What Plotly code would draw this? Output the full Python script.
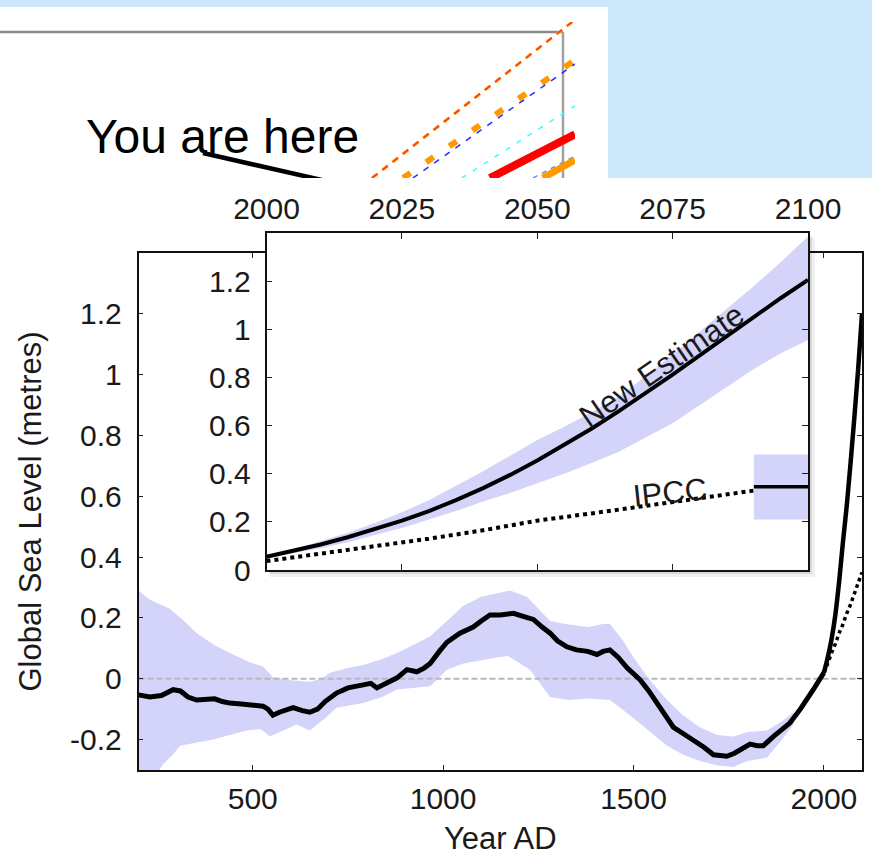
import plotly.graph_objects as go

W, H = 872, 865

def fx(p):
    return p / W

def fy(p):
    return (H - p) / H

# ---------------- data ----------------
hist_years = [200, 230, 260, 291, 310, 330, 353, 380, 400, 420, 440, 470, 500, 527, 540, 553, 570, 590, 606, 630,
              650, 670, 690, 720, 750, 790, 810, 826, 850, 879, 905, 931, 950, 966, 990, 1010, 1044, 1079, 1100, 1123,
              1150, 1185, 1210, 1237, 1260, 1281, 1300, 1325, 1350, 1380, 1404, 1420, 1438, 1460, 1483, 1500, 1517, 1540, 1561, 1583,
              1605, 1630, 1657, 1685, 1710, 1745, 1765, 1780, 1806, 1825, 1841, 1867, 1890, 1911, 1938, 1955, 1972, 1990, 2000]
hist_level = [-0.053, -0.06, -0.055, -0.036, -0.04, -0.06, -0.07, -0.068, -0.066, -0.075, -0.08, -0.083, -0.088, -0.09, -0.10, -0.12, -0.11, -0.10, -0.095, -0.105,
              -0.11, -0.10, -0.075, -0.047, -0.03, -0.02, -0.015, -0.03, -0.015, 0.003, 0.03, 0.023, 0.035, 0.05, 0.09, 0.12, 0.15, 0.17, 0.19, 0.21,
              0.21, 0.215, 0.205, 0.195, 0.17, 0.15, 0.125, 0.105, 0.095, 0.09, 0.08, 0.09, 0.095, 0.07, 0.036, 0.015, -0.003, -0.04, -0.08, -0.12,
              -0.16, -0.18, -0.20, -0.225, -0.25, -0.255, -0.245, -0.235, -0.215, -0.22, -0.22, -0.19, -0.165, -0.145, -0.10, -0.07, -0.036, 0.0, 0.02]

band_hi_years = [200, 230, 282, 320, 353, 400, 440, 490, 527, 553, 600, 650, 680, 703, 750, 790, 840, 879, 920, 966,
                 1010, 1053, 1100, 1141, 1176, 1220, 1250, 1281, 1320, 1380, 1420, 1438, 1470, 1500, 1540, 1588, 1630, 1675, 1720, 1762,
                 1800, 1850, 1890, 1920]
band_hi = [0.29, 0.26, 0.23, 0.19, 0.15, 0.11, 0.085, 0.055, 0.04, 0.005, -0.005, -0.01, 0.0, 0.02, 0.035, 0.045, 0.065, 0.085, 0.11, 0.14,
           0.19, 0.24, 0.27, 0.28, 0.29, 0.27, 0.23, 0.19, 0.18, 0.17, 0.18, 0.18, 0.13, 0.07, 0.0, -0.07, -0.12, -0.16, -0.185, -0.19,
           -0.175, -0.17, -0.14, -0.11]
band_lo_years = [200, 240, 265, 290, 309, 350, 396, 440, 484, 520, 545, 580, 615, 650, 690, 720, 790, 840, 879, 966,
                 1010, 1053, 1141, 1170, 1228, 1281, 1330, 1380, 1438, 1470, 1500, 1550, 1588, 1630, 1675, 1720, 1762, 1800, 1850, 1890,
                 1920]
band_lo = [-0.36, -0.33, -0.28, -0.25, -0.22, -0.21, -0.2, -0.185, -0.17, -0.165, -0.19, -0.17, -0.15, -0.17, -0.13, -0.095, -0.08, -0.06, -0.035, -0.025,
           0.03, 0.05, 0.07, 0.075, 0.03, -0.06, -0.07, -0.065, -0.07, -0.1, -0.13, -0.18, -0.22, -0.25, -0.27, -0.285, -0.29, -0.27, -0.26, -0.2,
           -0.15]

proj_years_main = [2000, 2010, 2020, 2030, 2040, 2050, 2060, 2070, 2080, 2090, 2100]
main_new = [0.02, 0.07, 0.13, 0.21, 0.32, 0.45, 0.57, 0.71, 0.86, 1.02, 1.2]
main_ipcc = [0.02, 0.05, 0.085, 0.115, 0.15, 0.18, 0.215, 0.245, 0.28, 0.315, 0.35]

inset_years = [2000, 2005, 2010, 2015, 2020, 2025, 2030, 2035, 2040, 2045, 2050,
               2055, 2060, 2065, 2070, 2075, 2080, 2085, 2090, 2095, 2100]
inset_new = [0.055, 0.079, 0.106, 0.136, 0.169, 0.205, 0.245, 0.29, 0.34, 0.395, 0.455,
             0.519, 0.587, 0.659, 0.734, 0.812, 0.892, 0.972, 1.052, 1.13, 1.205]
inset_hi = [0.06, 0.088, 0.12, 0.155, 0.195, 0.24, 0.29, 0.35, 0.41, 0.475, 0.54,
            0.595, 0.655, 0.72, 0.805, 0.895, 0.99, 1.085, 1.18, 1.28, 1.385]
inset_lo = [0.05, 0.07, 0.09, 0.115, 0.145, 0.175, 0.21, 0.245, 0.285, 0.32, 0.36,
            0.40, 0.445, 0.49, 0.55, 0.61, 0.685, 0.76, 0.835, 0.90, 0.955]

ipcc_years = [2000, 2010, 2020, 2030, 2040, 2050, 2060, 2070, 2080, 2090]
inset_ipcc = [0.037, 0.067, 0.098, 0.13, 0.165, 0.205, 0.235, 0.265, 0.298, 0.33]
ipcc_range_years = [2090, 2100]
ipcc_range_lo = [0.21, 0.21]
ipcc_range_hi = [0.48, 0.48]
ipcc_range_mid = [0.346, 0.346]

main_xticks = [500, 1000, 1500, 2000]
main_yticks = [-0.2, 0, 0.2, 0.4, 0.6, 0.8, 1.0, 1.2]
main_ytext = ["-0.2", "0", "0.2", "0.4", "0.6", "0.8", "1", "1.2"]
inset_xticks = [2000, 2025, 2050, 2075, 2100]
inset_yticks = [0, 0.2, 0.4, 0.6, 0.8, 1.0, 1.2]
inset_ytext = ["0", "0.2", "0.4", "0.6", "0.8", "1", "1.2"]
main_xrange = [200, 2100]

# partial chart at the top (pasted slide fragment), arbitrary 0-100 units
top_line_x = [[64.7, 99.5], [70.1, 100], [71.8, 100], [80.3, 100], [85.2, 100], [92.7, 100], [94.4, 100]]
top_line_y = [[0, 100], [0, 75.6], [0, 73.1], [0, 46.2], [0, 28.0], [0, 14.1], [0, 11.5]]
top_line_color = ["#ff9a1a", "#ff9900", "#2a2aff", "#33ffff", "#ff0000", "#8a8ac8", "#ff9900"]
top_line_width = [3, 6, 1.5, 1.5, 8, 1.5, 7]
top_line_dash = ["7px,6px", "9px,19px", "6px,7px", "5px,8px", "solid", "5px,5px", "solid"]
pointer_x = [35.3, 58.0]
pointer_y = [16.0, -3.0]

BAND = "#d4d4fb"
FONT = "Liberation Sans, Arial, sans-serif"
TXT = "#1a1a1a"

fig = go.Figure()

# ---------- main chart ----------
fig.add_trace(go.Scatter(
    x=band_hi_years + band_lo_years[::-1], y=band_hi + band_lo[::-1],
    fill="toself", fillcolor=BAND, line=dict(width=0), mode="lines",
    hoverinfo="skip", showlegend=False, xaxis="x", yaxis="y"))
fig.add_trace(go.Scatter(
    x=main_xrange, y=[0, 0], mode="lines",
    line=dict(color="#b8b8b8", width=2, dash="6px,3px"),
    showlegend=False, xaxis="x", yaxis="y"))
fig.add_trace(go.Scatter(
    x=proj_years_main, y=main_ipcc, mode="lines", line=dict(color="black", width=3.5, dash="dot", shape="spline"),
    showlegend=False, xaxis="x", yaxis="y"))
fig.add_trace(go.Scatter(
    x=hist_years, y=hist_level, mode="lines", line=dict(color="black", width=5),
    showlegend=False, xaxis="x", yaxis="y"))
fig.add_trace(go.Scatter(
    x=proj_years_main, y=main_new, mode="lines", line=dict(color="black", width=4.5, shape="spline"),
    showlegend=False, xaxis="x", yaxis="y"))

# ---------- inset ----------
fig.add_trace(go.Scatter(
    x=inset_years + inset_years[::-1], y=inset_hi + inset_lo[::-1],
    fill="toself", fillcolor=BAND, line=dict(width=0), mode="lines",
    showlegend=False, xaxis="x2", yaxis="y2"))
fig.add_trace(go.Scatter(
    x=ipcc_range_years + ipcc_range_years[::-1], y=ipcc_range_lo + ipcc_range_hi[::-1],
    fill="toself", fillcolor=BAND, line=dict(width=0), mode="lines",
    showlegend=False, xaxis="x2", yaxis="y2"))
fig.add_trace(go.Scatter(
    x=ipcc_years, y=inset_ipcc, mode="lines", line=dict(color="black", width=4, dash="dot"),
    showlegend=False, xaxis="x2", yaxis="y2"))
fig.add_trace(go.Scatter(
    x=ipcc_range_years, y=ipcc_range_mid, mode="lines", line=dict(color="black", width=3.5),
    showlegend=False, xaxis="x2", yaxis="y2"))
fig.add_trace(go.Scatter(
    x=inset_years, y=inset_new, mode="lines", line=dict(color="black", width=4),
    showlegend=False, xaxis="x2", yaxis="y2"))

# ---------- top fragment ----------
for i in range(len(top_line_x)):
    fig.add_trace(go.Scatter(
        x=top_line_x[i], y=top_line_y[i], mode="lines",
        line=dict(color=top_line_color[i], width=top_line_width[i], dash=top_line_dash[i]),
        showlegend=False, xaxis="x3", yaxis="y3"))
fig.add_trace(go.Scatter(
    x=top_line_x[0], y=top_line_y[0], mode="lines",
    line=dict(color="#ff2a00", width=1.2, dash="7px,6px"),
    showlegend=False, xaxis="x3", yaxis="y3"))
fig.add_trace(go.Scatter(
    x=pointer_x, y=pointer_y, mode="lines", line=dict(color="black", width=4.5),
    showlegend=False, xaxis="x3", yaxis="y3"))

tickfont = dict(family=FONT, size=30, color=TXT)

fig.update_layout(
    width=W, height=H,
    margin=dict(l=0, r=0, t=0, b=0),
    paper_bgcolor="#cce9fb",
    plot_bgcolor="white",
    showlegend=False,
    xaxis=dict(domain=[fx(138.5), fx(862)], range=main_xrange, tickvals=main_xticks,
               ticks="inside", ticklen=5, tickwidth=1.2, tickcolor="#222",
               showline=True, linecolor="#111", linewidth=1.5, mirror="ticks",
               showgrid=False, zeroline=False, tickfont=tickfont, ticklabelstandoff=1,
               title=dict(text="Year AD", font=dict(family=FONT, size=31, color=TXT), standoff=14),
               anchor="y", automargin=False),
    yaxis=dict(domain=[fy(770), fy(253)], range=[-0.3, 1.4], tickvals=main_yticks, ticktext=main_ytext,
               ticks="inside", ticklen=5, tickwidth=1.2, tickcolor="#222",
               showline=True, linecolor="#111", linewidth=1.5, mirror="ticks",
               showgrid=False, zeroline=False, tickfont=tickfont, ticklabelstandoff=9,
               title=dict(text="Global Sea Level (metres)", font=dict(family=FONT, size=31, color=TXT), standoff=19),
               anchor="x", automargin=False),
    xaxis2=dict(domain=[fx(266.5), fx(808)], range=[2000, 2100], tickvals=inset_xticks, side="top",
                ticks="inside", ticklen=6, tickwidth=1.2, tickcolor="#222",
                showline=True, linecolor="#111", linewidth=1.5, mirror="ticks",
                showgrid=False, zeroline=False, tickfont=tickfont, ticklabelstandoff=0,
                anchor="y2", automargin=False),
    yaxis2=dict(domain=[fy(570), fy(233)], range=[0, 1.4], tickvals=inset_yticks, ticktext=inset_ytext,
                ticks="inside", ticklen=6, tickwidth=1.2, tickcolor="#222",
                showline=True, linecolor="#111", linewidth=1.5, mirror="ticks",
                showgrid=False, zeroline=False, tickfont=tickfont, ticklabelstandoff=8,
                anchor="x2", automargin=False),
    xaxis3=dict(domain=[0, fx(575)], range=[0, 100], visible=False, anchor="y3"),
    yaxis3=dict(domain=[fy(178), fy(22)], range=[0, 100], visible=False, anchor="x3"),
)

shapes = [
    # white areas of the slide
    dict(type="rect", xref="paper", yref="paper", x0=0, x1=1, y0=0, y1=fy(178),
         fillcolor="white", line=dict(width=0), layer="below"),
    dict(type="rect", xref="paper", yref="paper", x0=0, x1=fx(608), y0=fy(178), y1=fy(7),
         fillcolor="white", line=dict(width=0), layer="below"),
    # frame of top fragment
    dict(type="line", xref="paper", yref="paper", x0=0, x1=fx(563), y0=fy(32), y1=fy(32),
         line=dict(color="#8a8a8a", width=2.5), layer="below"),
    dict(type="line", xref="paper", yref="paper", x0=fx(563), x1=fx(563), y0=fy(32), y1=fy(178),
         line=dict(color="#a0a0a0", width=2.5), layer="below"),
    # inset drop shadow
    dict(type="rect", xref="paper", yref="paper", x0=fx(270), x1=fx(815), y0=fy(577), y1=fy(238),
         fillcolor="rgba(0,0,0,0.06)", line=dict(width=0), layer="below"),
    dict(type="rect", xref="paper", yref="paper", x0=fx(269), x1=fx(812), y0=fy(574), y1=fy(236),
         fillcolor="rgba(0,0,0,0.10)", line=dict(width=0), layer="below"),
]
fig.update_layout(shapes=shapes)

fig.update_layout(annotations=[
    dict(text="You are here", xref="paper", yref="paper", x=fx(84), y=fy(137),
         xanchor="left", yanchor="middle", showarrow=False,
         font=dict(family=FONT, size=48, color="black")),
    dict(text="New Estimate", xref="x2", yref="y2", x=2073, y=0.85, textangle=-34.5,
         showarrow=False, font=dict(family=FONT, size=31, color=TXT)),
    dict(text="IPCC", xref="x2", yref="y2", x=2074.5, y=0.32, textangle=-6,
         showarrow=False, font=dict(family=FONT, size=31, color=TXT)),
])

fig.write_html("out.html")
